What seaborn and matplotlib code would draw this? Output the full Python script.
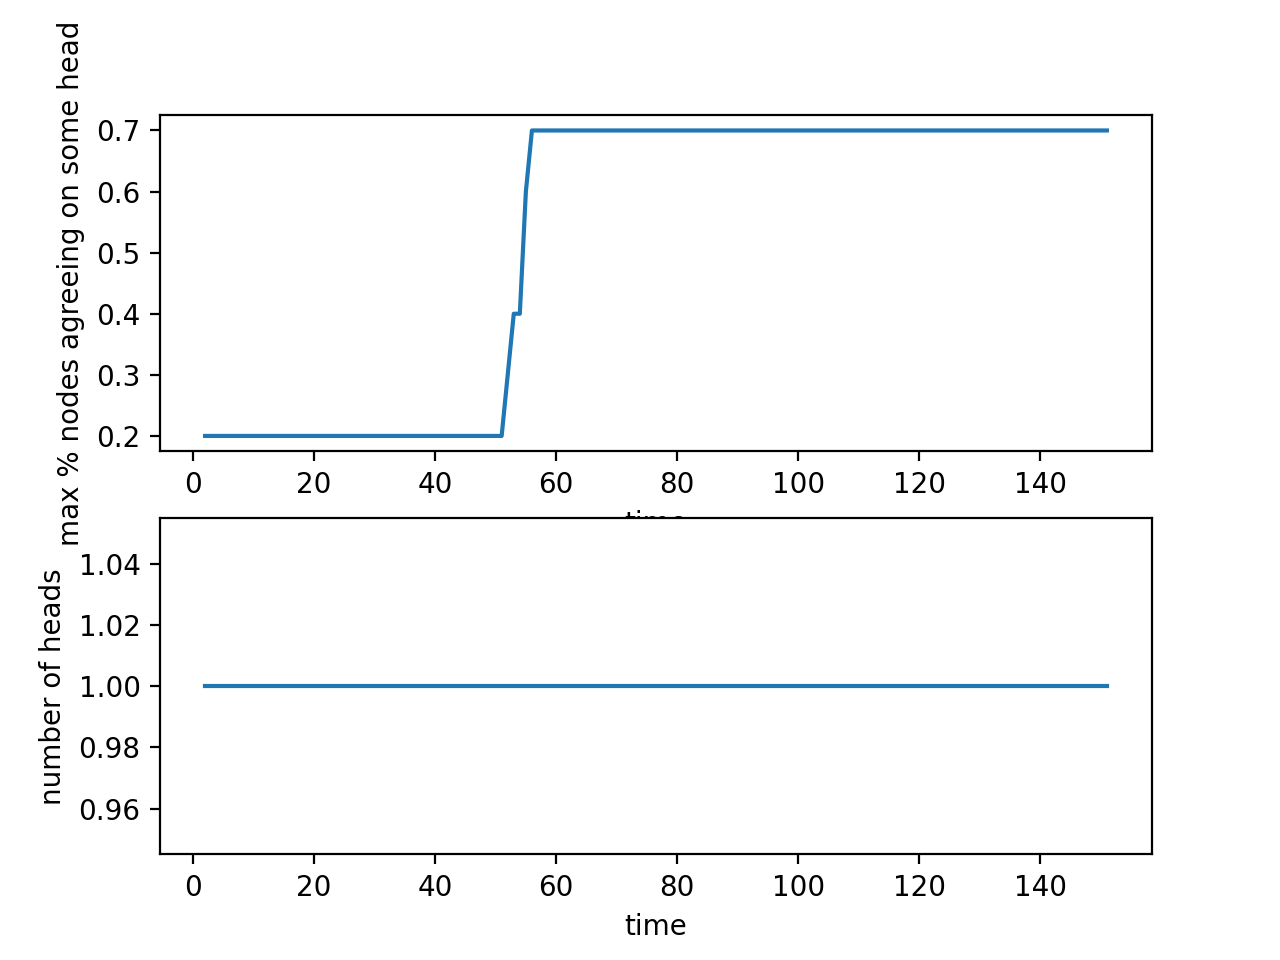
import matplotlib
matplotlib.use("Agg")
import seaborn as sns
import matplotlib.pyplot as plt

# change points of the agreement curve (flat between them)
agree_time = [2, 51, 52, 53, 54, 55, 56, 151]
agree_frac = [0.2, 0.2, 0.3, 0.4, 0.4, 0.6, 0.7, 0.7]

# number of heads stays at one the whole run
heads_time = [2, 151]
heads_count = [1, 1]

fig, (ax1, ax2) = plt.subplots(2, 1, figsize=(6.4, 4.8), dpi=200)

sns.lineplot(x=agree_time, y=agree_frac, ax=ax1, color="tab:blue", linewidth=1.5)
ax1.set_xlabel("time")
ax1.set_ylabel("max % nodes agreeing on some head")

sns.lineplot(x=heads_time, y=heads_count, ax=ax2, color="tab:blue", linewidth=1.5)
ax2.set_xlabel("time")
ax2.set_ylabel("number of heads")

fig.savefig("out.png", dpi=200)
